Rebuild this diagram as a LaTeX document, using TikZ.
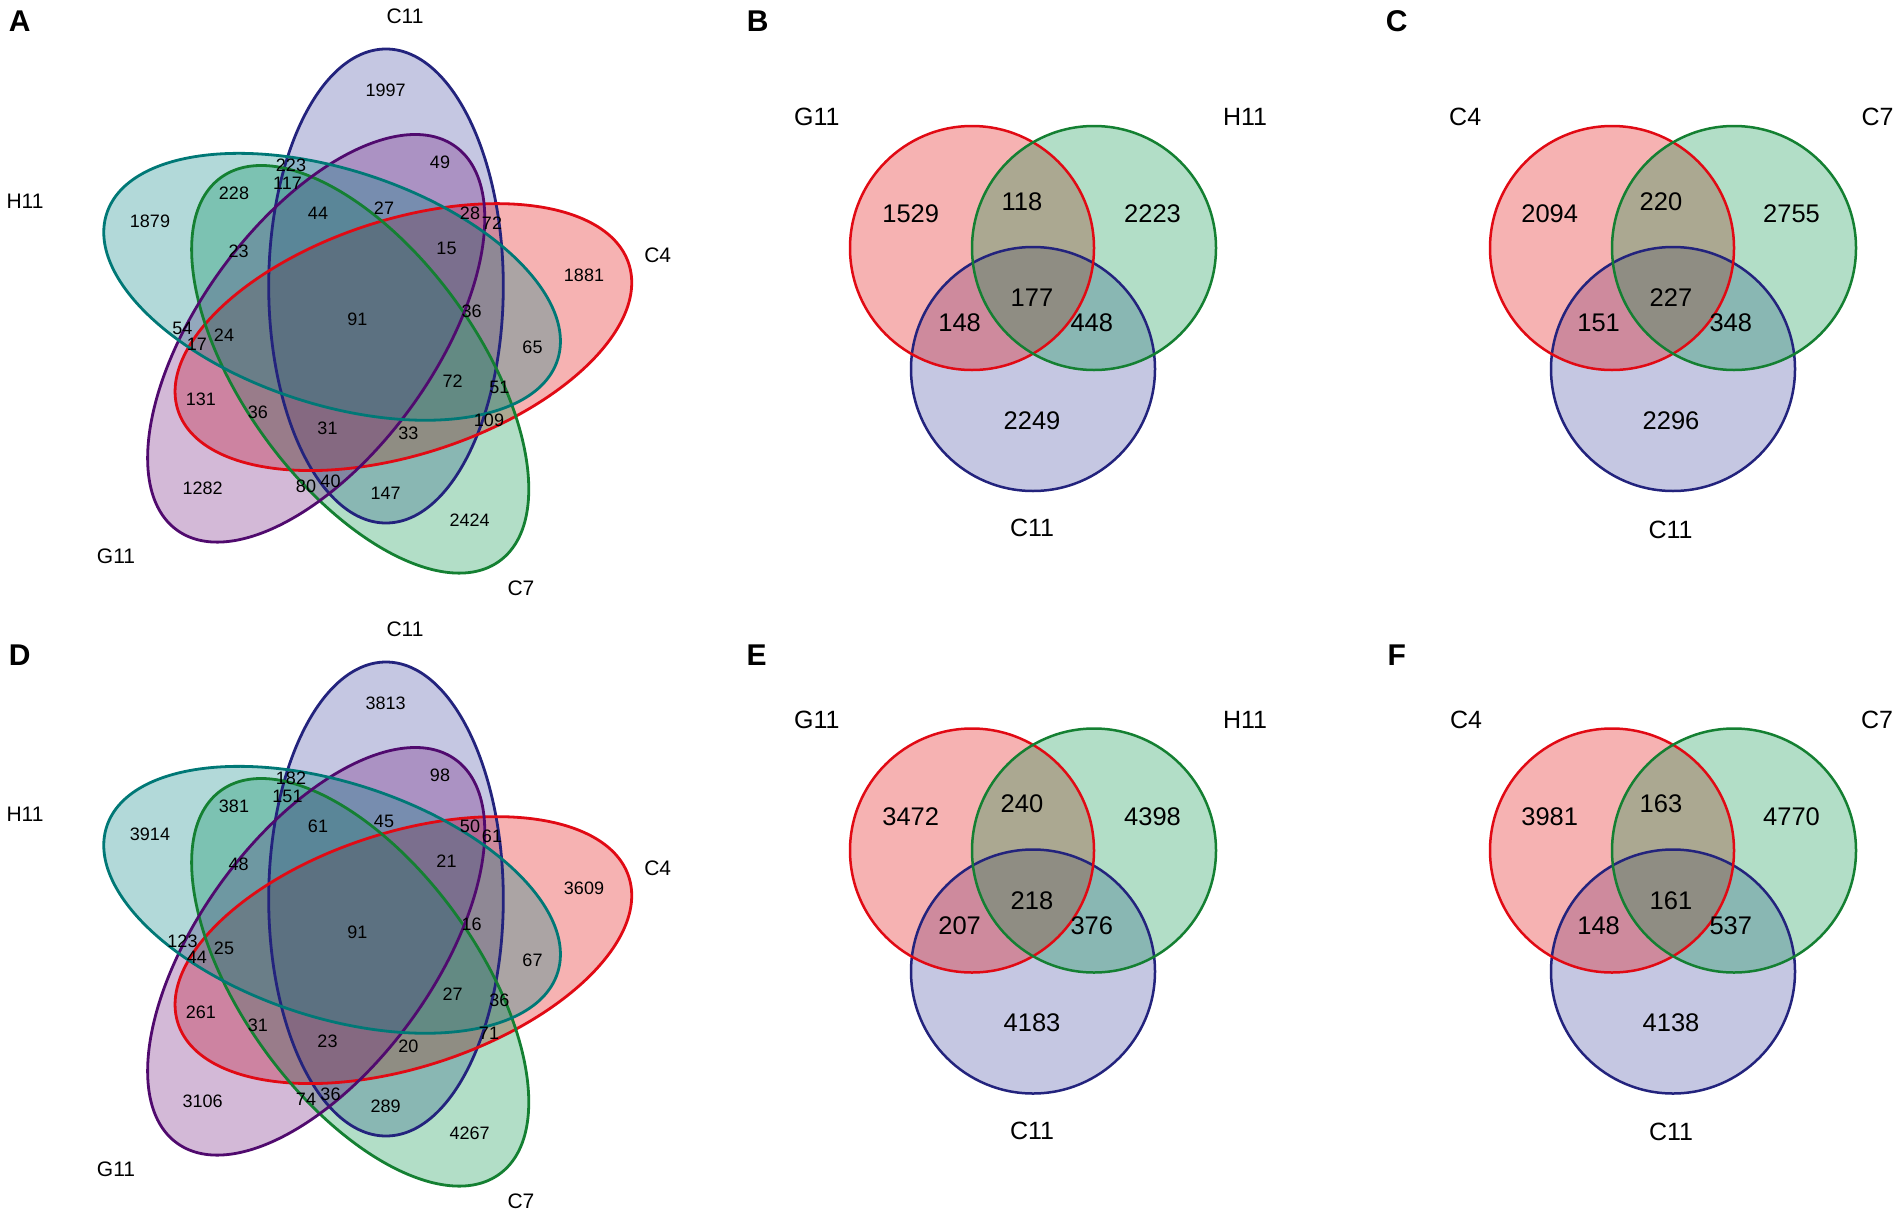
\documentclass[tikz,border=0pt]{standalone}
\usepackage{fontspec}
\setmainfont{Liberation Sans}
\definecolor{cB}{RGB}{65,72,159}
\definecolor{cBl}{RGB}{35,35,125}
\definecolor{cR}{RGB}{228,0,0}
\definecolor{cRl}{RGB}{225,10,20}
\definecolor{cG}{RGB}{0,148,72}
\definecolor{cGl}{RGB}{20,128,50}
\definecolor{cP}{RGB}{112,25,125}
\definecolor{cPl}{RGB}{80,10,110}
\definecolor{cT}{RGB}{0,132,132}
\definecolor{cTl}{RGB}{0,120,118}
\begin{document}
\begin{tikzpicture}[x=1pt,y=-1pt,
  num5/.style={font=\fontsize{18}{20}\selectfont, inner sep=0pt},
  lab5/.style={font=\fontsize{21}{24}\selectfont, inner sep=0pt},
  num3/.style={font=\fontsize{25.5}{28}\selectfont, inner sep=0pt},
  lab3/.style={font=\fontsize{25}{28}\selectfont, inner sep=0pt},
  panel/.style={font=\fontsize{30}{34}\selectfont\bfseries, inner sep=0pt},
  sfill/.style={fill=#1, fill opacity=0.3},
  sline5/.style={draw=#1, line width=2.8pt},
  sline3/.style={draw=#1, line width=2.5pt},
  ell/.style={x radius=237pt, y radius=117.3pt},
]
\useasboundingbox[fill=white] (0,0) rectangle (1901,1218);

% ---------- five-set diagrams (A, D) ----------
\foreach \dy/\pn in {0/A,613/D} {
  \begin{scope}[shift={(0,\dy)}]
    \fill[sfill=cB, rotate around={90:(386,286)}] (386,286) ellipse [ell];
    \fill[sfill=cR, rotate around={18:(403.4,337.1)}] (403.4,337.1) ellipse [ell];
    \fill[sfill=cG, rotate around={-54:(360.2,369.3)}] (360.2,369.3) ellipse [ell];
    \fill[sfill=cP, rotate around={54:(316.2,338.3)}] (316.2,338.3) ellipse [ell];
    \fill[sfill=cT, rotate around={-18:(332.1,286.8)}] (332.1,286.8) ellipse [ell];
    \draw[sline5=cBl, rotate around={90:(386,286)}] (386,286) ellipse [ell];
    \draw[sline5=cRl, rotate around={18:(403.4,337.1)}] (403.4,337.1) ellipse [ell];
    \draw[sline5=cGl, rotate around={-54:(360.2,369.3)}] (360.2,369.3) ellipse [ell];
    \draw[sline5=cPl, rotate around={54:(316.2,338.3)}] (316.2,338.3) ellipse [ell];
    \draw[sline5=cTl, rotate around={-18:(332.1,286.8)}] (332.1,286.8) ellipse [ell];
    \node[lab5] (\pn-C11) at (405,16.7) {C11};
    \node[lab5] (\pn-C4) at (657.7,255) {C4};
    \node[lab5] (\pn-C7) at (521,588) {C7};
    \node[lab5] (\pn-G11) at (116,556.7) {G11};
    \node[lab5] (\pn-H11) at (25,201.7) {H11};
  \end{scope}
}

\foreach \x/\y/\ta/\td [count=\i] in {
  385.7/90/1997/3813, 440/162/49/98, 291/165/223/182, 287.5/183.3/117/151,
  234/193.3/228/381, 150/221.7/1879/3914, 318/213.3/44/61, 384/208.3/27/45,
  470/213/28/50, 492/223.5/72/61, 238.6/251.7/23/48, 446.5/248.3/15/21,
  584/275/1881/3609, 357.3/319.3/91/91, 471.7/311.7/36/16, 182.5/328/54/123,
  197/344/17/44, 224/335.5/24/25, 532.5/347.5/65/67, 452.7/381.5/72/27,
  499.3/387.5/51/36, 200.8/398.8/131/261, 257.8/411.8/36/31, 489/420.3/109/71,
  327.5/428.3/31/23, 408.3/433.3/33/20, 202.6/488/1282/3106, 306/486/80/74,
  330.5/481/40/36, 385.7/493.3/147/289, 469.6/520/2424/4267} {
  \node[num5] (a\i) at (\x,\y) {\ta};
  \node[num5] (d\i) at (\x,\y+613) {\td};
}

% ---------- three-set diagrams (B, C, E, F) ----------
\foreach \sx/\sy/\pn in {0/0/B, 640/0/C, 0/602.5/E, 640/602.5/F} {
  \begin{scope}[shift={(\sx,\sy)}]
    \fill[sfill=cB] (1033,369) circle [radius=122pt];
    \fill[sfill=cR] (972,248) circle [radius=122pt];
    \fill[sfill=cG] (1094,248) circle [radius=122pt];
    \draw[sline3=cBl] (1033,369) circle [radius=122pt];
    \draw[sline3=cRl] (972,248) circle [radius=122pt];
    \draw[sline3=cGl] (1094,248) circle [radius=122pt];
  \end{scope}
}

\node[lab3] (B-G11) at (816.8,117.3) {G11};
\node[lab3] (B-H11) at (1245,117.3) {H11};
\node[lab3] (B-C11) at (1032,528) {C11};
\node[lab3] (C-C4) at (1465.2,117.3) {C4};
\node[lab3] (C-C7) at (1877.6,117.3) {C7};
\node[lab3] (C-C11) at (1670.5,530) {C11};
\node[lab3] (E-G11) at (816.8,719.8) {G11};
\node[lab3] (E-H11) at (1245,719.8) {H11};
\node[lab3] (E-C11) at (1032,1130.5) {C11};
\node[lab3] (F-C4) at (1466,720) {C4};
\node[lab3] (F-C7) at (1877,720) {C7};
\node[lab3] (F-C11) at (1671,1131.5) {C11};

\foreach \x/\y/\tb/\tc/\te/\tf [count=\i] in {
  910.7/214/1529/2094/3472/3981, 1022/201.7/118/220/240/163,
  1152.5/214/2223/2755/4398/4770, 1032/298/177/227/218/161,
  959.6/323/148/151/207/148, 1091.8/323/448/348/376/537,
  1032/420.7/2249/2296/4183/4138} {
  \node[num3] (b\i) at (\x,\y) {\tb};
  \node[num3] (c\i) at (\x+639,\y) {\tc};
  \node[num3] (e\i) at (\x,\y+602.5) {\te};
  \node[num3] (f\i) at (\x+639,\y+602.5) {\tf};
}

% ---------- panel letters ----------
\node[panel] (pA) at (19.6,20.7) {A};
\node[panel] (pB) at (757.8,21) {B};
\node[panel] (pC) at (1396.7,21) {C};
\node[panel] (pD) at (19.6,655) {D};
\node[panel] (pE) at (756.7,655) {E};
\node[panel] (pF) at (1396.7,655) {F};
\end{tikzpicture}
\end{document}
